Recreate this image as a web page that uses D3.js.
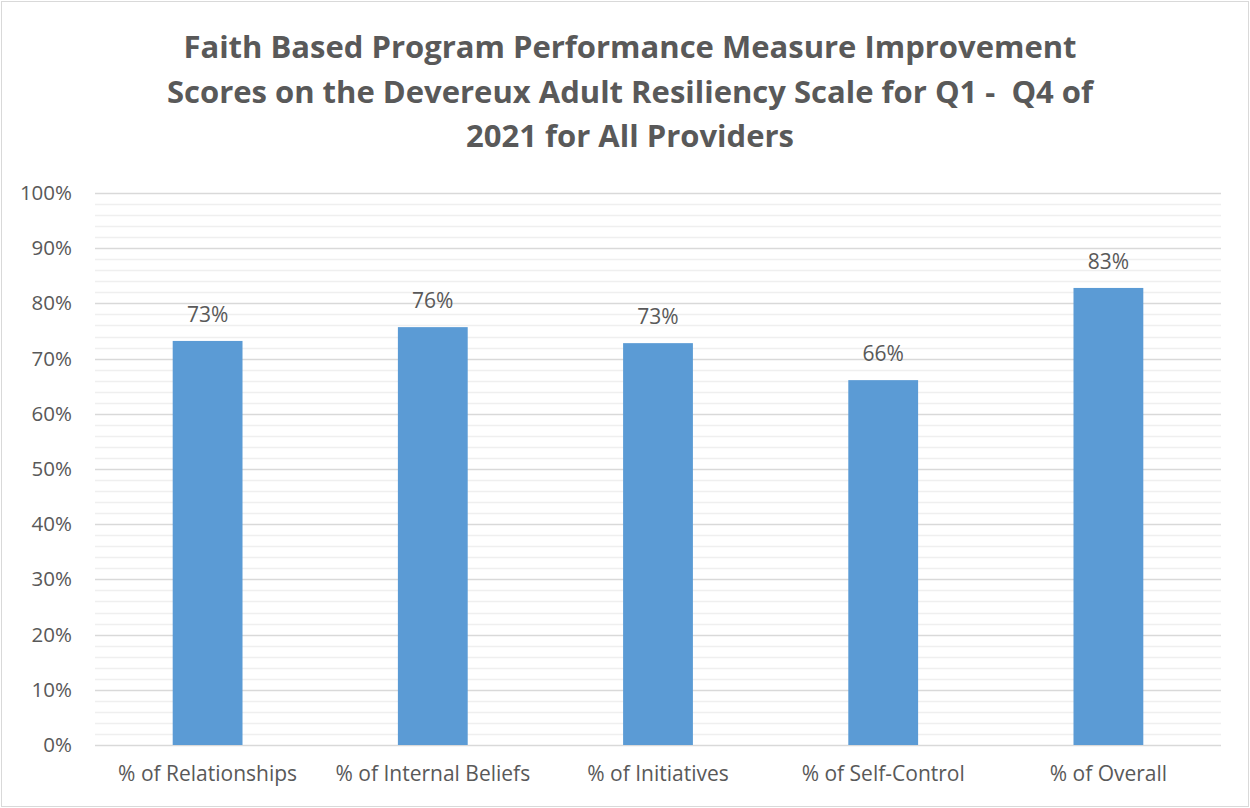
<!DOCTYPE html>
<html>
<head>
<meta charset="utf-8">
<script src="https://cdn.jsdelivr.net/npm/d3@7"></script>
<style>
  body { margin: 0; background: #fff; }
  text { font-family: "Open Sans", sans-serif; fill: #595959; }
</style>
</head>
<body>
<svg id="chart" width="1250" height="808"></svg>
<script>
// chart data
const categories = ["% of Relationships", "% of Internal Beliefs", "% of Initiatives", "% of Self-Control", "% of Overall"];
const values = [0.732, 0.757, 0.728, 0.661, 0.828];
const valueLabels = ["73%", "76%", "73%", "66%", "83%"];
const titleLines = [
  "Faith Based Program Performance Measure Improvement",
  "Scores on the Devereux Adult Resiliency Scale for Q1 -  Q4 of",
  "2021 for All Providers"
];

const svg = d3.select("#chart");
const W = 1250, H = 808;
const margin = { left: 95, right: 29, top: 193, bottom: 63 };

// outer frame
svg.append("rect")
  .attr("x", 1.5).attr("y", 1.5)
  .attr("width", W - 3).attr("height", H - 3)
  .attr("fill", "#fff")
  .attr("stroke", "#d9d9d9");

const x = d3.scaleBand()
  .domain(categories)
  .range([margin.left, W - margin.right]);

const y = d3.scaleLinear()
  .domain([0, 1])
  .range([H - margin.bottom, margin.top]);

const g = svg.append("g");

// minor grid every 2%
const minor = d3.range(0, 1.001, 0.02).filter(v => Math.round(v * 100) % 10 !== 0);
g.selectAll(".minor").data(minor).join("line")
  .attr("x1", margin.left).attr("x2", W - margin.right)
  .attr("y1", d => Math.round(y(d)) + 0.5).attr("y2", d => Math.round(y(d)) + 0.5)
  .attr("stroke", "#efefef").attr("stroke-width", 1.3);

// major grid
const major = d3.range(0, 1.001, 0.1);
g.selectAll(".major").data(major).join("line")
  .attr("x1", margin.left).attr("x2", W - margin.right)
  .attr("y1", d => Math.round(y(d)) + 0.5).attr("y2", d => Math.round(y(d)) + 0.5)
  .attr("stroke", "#d9d9d9").attr("stroke-width", 1.3);

// y axis labels
const yAxis = d3.axisLeft(y).tickValues(major).tickFormat(d3.format(".0%")).tickSize(0).tickPadding(23);
const ya = svg.append("g").attr("transform", `translate(${margin.left},0)`).call(yAxis);
ya.select(".domain").remove();
ya.selectAll("text").style("font-size", "20.5px").attr("fill", "#595959").style("font-family", "'Open Sans', sans-serif");

// bars
const barW = x.bandwidth() * 0.31;
g.selectAll(".bar").data(values).join("rect")
  .attr("x", (d, i) => x(categories[i]) + x.bandwidth() / 2 - barW / 2)
  .attr("width", barW)
  .attr("y", d => y(d))
  .attr("height", d => y(0) - y(d))
  .attr("fill", "#5b9bd5");

// value labels
g.selectAll(".val").data(values).join("text")
  .attr("x", (d, i) => x(categories[i]) + x.bandwidth() / 2)
  .attr("y", d => y(d) - 19)
  .attr("text-anchor", "middle")
  .style("font-size", "21px")
  .text((d, i) => valueLabels[i]);

// x axis
const xAxis = d3.axisBottom(x).tickSize(0).tickPadding(21);
const xa = svg.append("g").attr("transform", `translate(0,${y(0)})`).call(xAxis);
xa.select(".domain").remove();
xa.selectAll("text").style("font-size", "21px").attr("fill", "#595959").style("font-family", "'Open Sans', sans-serif");

// title
svg.append("g").selectAll("text").data(titleLines).join("text")
  .attr("x", 630)
  .attr("y", (d, i) => 58 + i * 44.5)
  .attr("text-anchor", "middle")
  .style("font-size", "31px")
  .style("font-weight", "bold")
  .style("white-space", "pre")
  .text(d => d);
</script>
</body>
</html>
